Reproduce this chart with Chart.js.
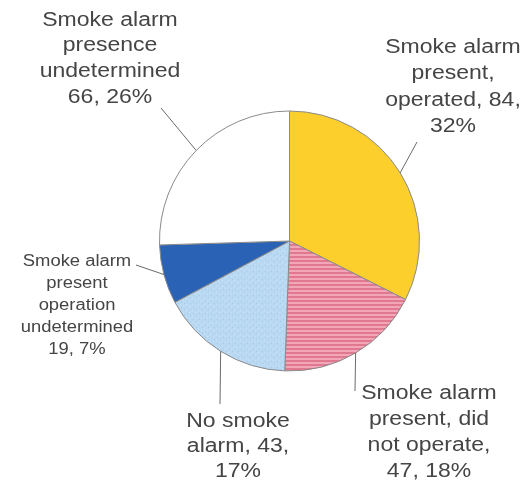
<!DOCTYPE html>
<html>
<head>
<meta charset="utf-8">
<script src="https://cdn.jsdelivr.net/npm/chart.js@4.4.1/dist/chart.umd.min.js"></script>
<style>
    html, body { margin: 0; padding: 0; background: #fff; }
    #wrap { width: 524px; height: 480px; position: relative; }
</style>
</head>
<body>
<div id="wrap"><canvas id="pie"></canvas></div>
<script>
    // slices, clockwise from 12 o'clock
    const categories = [
        'Smoke alarm present, operated',
        'Smoke alarm present, did not operate',
        'No smoke alarm',
        'Smoke alarm present operation undetermined',
        'Smoke alarm presence undetermined'
    ];
    const counts = [84, 47, 43, 19, 66];
    const percents = [32, 18, 17, 7, 26];
    // label text as it is broken in the picture ({n} = count, {p} = percent)
    const labelLines = [
        ['Smoke alarm', 'present,', 'operated, {n},', '{p}%'],
        ['Smoke alarm', 'present, did', 'not operate,', '{n}, {p}%'],
        ['No smoke', 'alarm, {n},', '{p}%'],
        ['Smoke alarm', 'present', 'operation', 'undetermined', '{n}, {p}%'],
        ['Smoke alarm', 'presence', 'undetermined', '{n}, {p}%']
    ];

    function makePattern(w, h, draw) {
        const c = document.createElement('canvas');
        c.width = w;
        c.height = h;
        draw(c.getContext('2d'));
        return document.getElementById('pie').getContext('2d').createPattern(c, 'repeat');
    }

    const hatchRed = makePattern(4, 4, (ctx) => {
        ctx.fillStyle = '#f2a6b8';
        ctx.fillRect(0, 0, 4, 4);
        ctx.fillStyle = '#e07890';
        ctx.fillRect(0, 0, 4, 2);
    });

    const dottedBlue = makePattern(6, 6, (ctx) => {
        ctx.fillStyle = '#b9d8f2';
        ctx.fillRect(0, 0, 6, 6);
        ctx.fillStyle = '#a6c8ea';
        ctx.fillRect(1, 1, 1, 1);
        ctx.fillRect(4, 3, 1, 1);
        ctx.fillStyle = '#cce4f8';
        ctx.fillRect(3, 0, 1, 1);
        ctx.fillRect(0, 4, 1, 1);
    });

    const sliceColors = ['#fdcf2c', hatchRed, dottedBlue, '#2a62b6', '#ffffff'];

    // label placement: centre x, first line y, line gap, font size, leader end
    const labelLayout = [
        { x: 453, y: 47, gap: 26.5, size: 20, end: [417, 142] },
        { x: 429, y: 393, gap: 26, size: 20, end: [355, 391] },
        { x: 238, y: 421, gap: 25, size: 20, end: [220, 404] },
        { x: 77, y: 262, gap: 22, size: 16, end: [136, 265] },
        { x: 110, y: 20, gap: 25.7, size: 20, end: [161, 108] }
    ];

    const labelPlugin = {
        id: 'sliceLabels',
        afterDraw(chart) {
            const ctx = chart.ctx;
            const arcs = chart.getDatasetMeta(0).data;
            ctx.save();
            arcs.forEach((arc, i) => {
                const mid = (arc.startAngle + arc.endAngle) / 2;
                const sx = arc.x + Math.cos(mid) * arc.outerRadius;
                const sy = arc.y + Math.sin(mid) * arc.outerRadius;
                const lay = labelLayout[i];
                ctx.strokeStyle = '#6a6a6a';
                ctx.lineWidth = 1;
                ctx.beginPath();
                ctx.moveTo(sx, sy);
                ctx.lineTo(lay.end[0], lay.end[1]);
                ctx.stroke();

                ctx.fillStyle = '#454545';
                ctx.font = lay.size + 'px "Liberation Sans", Arial, sans-serif';
                ctx.textAlign = 'center';
                ctx.textBaseline = 'middle';
                labelLines[i].forEach((line, k) => {
                    const text = line.replace('{n}', counts[i]).replace('{p}', percents[i]);
                    ctx.save();
                    ctx.translate(lay.x, lay.y + k * lay.gap);
                    ctx.scale(1.15, 1);
                    ctx.fillText(text, 0, 0);
                    ctx.restore();
                });
            });
            ctx.restore();
        }
    };

    new Chart(document.getElementById('pie'), {
        type: 'pie',
        data: {
            labels: categories,
            datasets: [{
                data: counts,
                backgroundColor: sliceColors,
                borderColor: '#8a8a8a',
                borderWidth: 1
            }]
        },
        options: {
            responsive: true,
            maintainAspectRatio: false,
            animation: false,
            layout: { padding: { left: 159, right: 104, top: 110, bottom: 108 } },
            plugins: {
                legend: { display: false },
                tooltip: { enabled: false }
            }
        },
        plugins: [labelPlugin]
    });
</script>
</body>
</html>
